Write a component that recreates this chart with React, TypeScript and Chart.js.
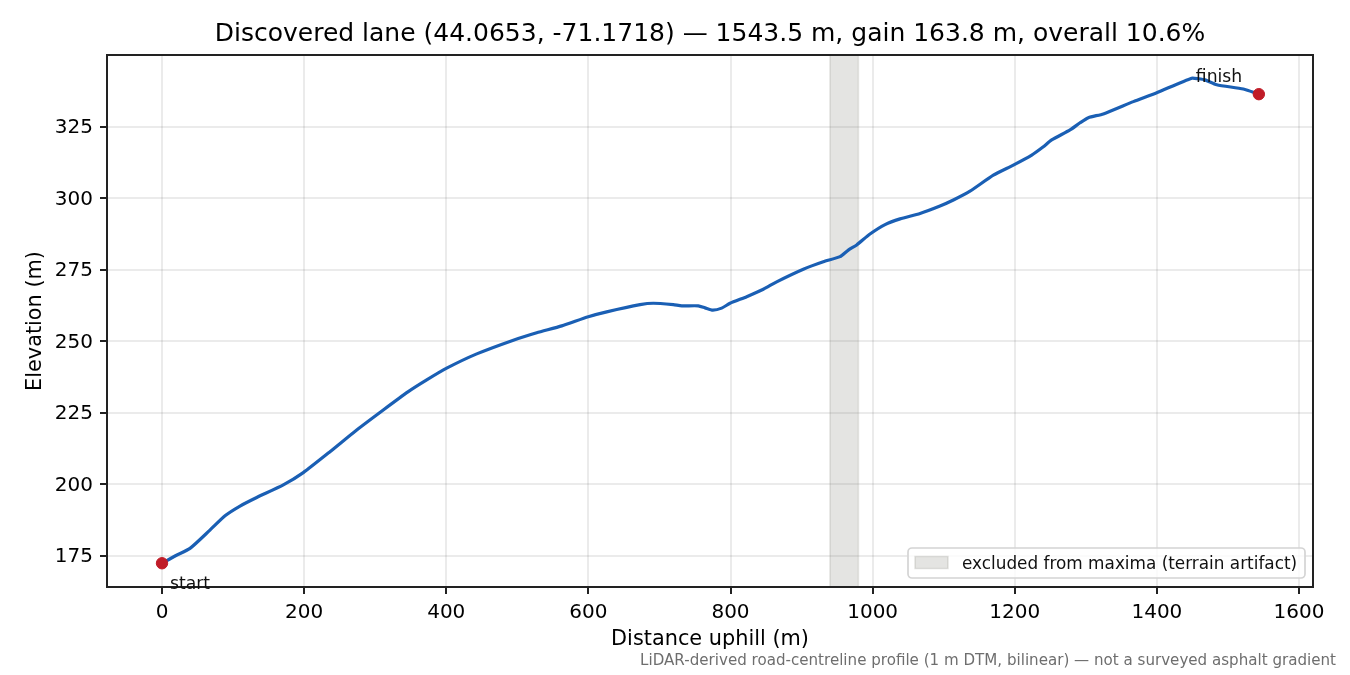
import React, { useEffect, useRef } from "react";
import { Chart, registerables } from "chart.js";

Chart.register(...registerables);

const titleText = "Discovered lane (44.0653, -71.1718) — 1543.5 m, gain 163.8 m, overall 10.6%";
const xLabel = "Distance uphill (m)";
const yLabel = "Elevation (m)";
const footnote = "LiDAR-derived road-centreline profile (1 m DTM, bilinear) — not a surveyed asphalt gradient";
const legendLabel = "excluded from maxima (terrain artifact)";

const xLimits = [-77.4, 1619.7];
const yLimits = [164, 350];
const xTicks = [0, 200, 400, 600, 800, 1000, 1200, 1400, 1600];
const yTicks = [175, 200, 225, 250, 275, 300, 325];

const distance = [0, 19.7, 39.4, 67.5, 88.7, 109.8, 133.3, 170.7, 198.8, 236.4, 274, 311.4, 346.6, 372.5, 400.6, 442.9, 494.4, 527.3, 562.5, 599.9, 625.8, 672.7, 691.4, 719.5, 731.4, 754.7, 764.1, 775, 787.6, 799.3, 822.8, 846.2, 865, 902.5, 930.6, 954.1, 965.8, 977.6, 996.3, 1017.5, 1038.6, 1066.7, 1094.8, 1113.6, 1137, 1169.9, 1198, 1223.9, 1240.2, 1252, 1277.8, 1291.9, 1303.6, 1324.7, 1366.9, 1399.8, 1449, 1458.3, 1467.8, 1484.2, 1521.7, 1543.5];
const elevation = [172.3, 175, 177.5, 183.9, 188.9, 192.3, 195.3, 199.7, 204, 211.3, 218.9, 225.9, 232.3, 236.4, 240.5, 245.5, 250.3, 252.9, 255.3, 258.5, 260.2, 262.7, 263.2, 262.7, 262.3, 262.3, 261.6, 260.8, 261.5, 263.2, 265.5, 268.1, 270.7, 275.1, 277.7, 279.5, 281.8, 283.6, 287.4, 290.7, 292.7, 294.6, 297.2, 299.3, 302.4, 308, 311.5, 315, 317.9, 320.3, 323.8, 326.3, 328.1, 329.4, 333.7, 336.8, 341.9, 341.7, 341.3, 339.6, 338.1, 336.3];

const excludedStart = 940;
const excludedEnd = 980;
const endpointLabels = ["start", "finish"];
const endpointX = [0, 1543.5];
const endpointY = [172.3, 336.3];

const FONT = '"DejaVu Sans"';
const INK = "#222222";
const BLUE = "#1a5fb4";
const RED = "#c01c28";
const SPAN_FILL = "rgba(119,118,112,0.2)";
const GRID = "rgba(0,0,0,0.08)";

const overlay = {
  id: "overlay",
  afterDraw(chart: any) {
    const { ctx, chartArea: a, scales } = chart;
    ctx.save();
    // axes box
    ctx.strokeStyle = INK;
    ctx.lineWidth = 2;
    ctx.strokeRect(a.left, a.top, a.right - a.left, a.bottom - a.top);
    // endpoint labels
    ctx.fillStyle = "#111111";
    ctx.font = `17.2px ${FONT}`;
    ctx.textBaseline = "alphabetic";
    ctx.textAlign = "left";
    ctx.fillText(endpointLabels[0], scales.x.getPixelForValue(endpointX[0]) + 8, scales.y.getPixelForValue(endpointY[0]) + 26);
    ctx.fillText(endpointLabels[1], scales.x.getPixelForValue(endpointX[1]) - 63, scales.y.getPixelForValue(endpointY[1]) - 12);
    // legend
    const lx = 908, ly = 548, lw = 397, lh = 30;
    ctx.beginPath();
    ctx.roundRect(lx, ly, lw, lh, 4);
    ctx.fillStyle = "rgba(255,255,255,0.8)";
    ctx.fill();
    ctx.strokeStyle = "#d4d4d4";
    ctx.lineWidth = 1.7;
    ctx.stroke();
    ctx.fillStyle = SPAN_FILL;
    ctx.strokeStyle = SPAN_FILL;
    ctx.lineWidth = 1.5;
    ctx.fillRect(915, 556.5, 33, 12);
    ctx.strokeRect(915, 556.5, 33, 12);
    ctx.fillStyle = "#111111";
    ctx.font = `16.86px ${FONT}`;
    ctx.fillText(legendLabel, 962, 568.5);
    // footnote
    ctx.fillStyle = "#6e6e6e";
    ctx.font = `15.1px ${FONT}`;
    ctx.textAlign = "right";
    ctx.fillText(footnote, 1336, 665);
    ctx.restore();
  },
};

export default function App() {
  const ref = useRef<HTMLCanvasElement | null>(null);
  useEffect(() => {
    document.body.style.margin = "0";
    document.body.style.background = "#ffffff";
    const chart = new Chart(ref.current as HTMLCanvasElement, {
      type: "scatter",
      data: {
        datasets: [
          {
            label: "endpoints",
            data: endpointX.map((x, i) => ({ x, y: endpointY[i] })),
            backgroundColor: RED,
            borderColor: RED,
            pointRadius: 5.7,
            showLine: false,
            order: 0,
          },
          {
            label: "profile",
            data: distance.map((x, i) => ({ x, y: elevation[i] })),
            borderColor: BLUE,
            borderWidth: 3.2,
            pointRadius: 0,
            showLine: true,
            tension: 0.2,
            borderJoinStyle: "round",
            order: 1,
          },
          {
            label: legendLabel,
            data: [
              { x: excludedStart, y: yLimits[0] },
              { x: excludedStart, y: yLimits[1] },
              { x: excludedEnd, y: yLimits[1] },
              { x: excludedEnd, y: yLimits[0] },
            ],
            borderColor: SPAN_FILL,
            backgroundColor: SPAN_FILL,
            borderWidth: 1.5,
            pointRadius: 0,
            showLine: true,
            tension: 0,
            fill: "start",
            order: 2,
          },
        ],
      } as any,
      options: {
        responsive: false,
        animation: false,
        devicePixelRatio: 1,
        layout: { padding: { left: 0, right: 37, top: 0, bottom: 0 } },
        plugins: {
          legend: { display: false },
          tooltip: { enabled: false },
          title: {
            display: true,
            text: titleText,
            color: "#000000",
            fullSize: false,
            font: { family: FONT, size: 25, weight: "normal", lineHeight: 1.2 },
            padding: { top: 19, bottom: 6 },
          },
        },
        scales: {
          x: {
            type: "linear",
            min: xLimits[0],
            max: xLimits[1],
            afterBuildTicks: (s: any) => { s.ticks = xTicks.map((value) => ({ value })); },
            afterFit: (s: any) => { s.height = 88; },
            grid: { color: GRID, lineWidth: 2, tickColor: INK, tickLength: 7, tickWidth: 2 },
            border: { display: false },
            ticks: {
              color: "#000000",
              padding: 7,
              maxRotation: 0,
              autoSkip: false,
              font: { family: FONT, size: 20 },
              callback: (v: any) => String(v),
            },
            title: {
              display: true,
              text: xLabel,
              color: "#000000",
              font: { family: FONT, size: 20.83, lineHeight: 1.2 },
              padding: { top: 0, bottom: 22.5 },
            },
          },
          y: {
            type: "linear",
            min: yLimits[0],
            max: yLimits[1],
            afterBuildTicks: (s: any) => { s.ticks = yTicks.map((value) => ({ value })); },
            afterFit: (s: any) => { s.width = 107; },
            grid: { color: GRID, lineWidth: 2, tickColor: INK, tickLength: 7, tickWidth: 2 },
            border: { display: false },
            ticks: {
              color: "#000000",
              padding: 7,
              labelOffset: 1.5,
              autoSkip: false,
              font: { family: FONT, size: 20 },
              callback: (v: any) => String(v),
            },
            title: {
              display: true,
              text: yLabel,
              color: "#000000",
              font: { family: FONT, size: 20.83, lineHeight: 1.2 },
              padding: { top: 23.5, bottom: 0 },
            },
          },
        },
      } as any,
      plugins: [overlay],
    });
    return () => chart.destroy();
  }, []);
  return (
    <div style={{ width: 1350, height: 675 }}>
      <canvas ref={ref} width={1350} height={675} style={{ display: "block" }} />
    </div>
  );
}
